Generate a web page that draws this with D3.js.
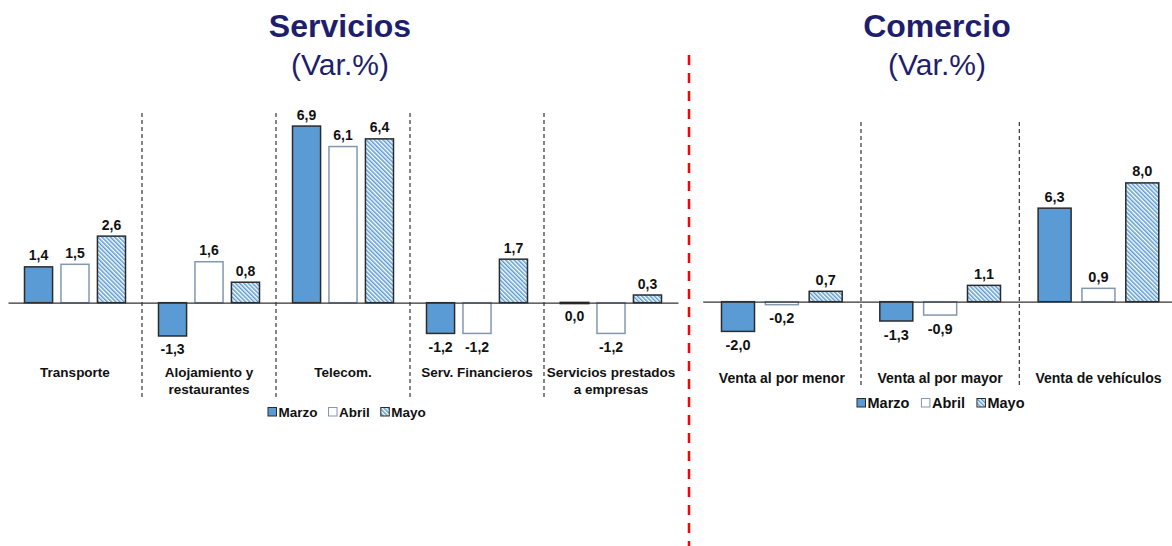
<!DOCTYPE html>
<html>
<head>
<meta charset="utf-8">
<script src="https://cdn.jsdelivr.net/npm/d3@7"></script>
<style>
  html, body { margin: 0; padding: 0; background: #fff; }
  svg { display: block; font-family: "Liberation Sans", Arial, sans-serif; }
</style>
</head>
<body>
<svg id="chart" width="1172" height="546"></svg>
<script>
// ---- Data ----
const seriesNames = ["Marzo", "Abril", "Mayo"];

const servCategories = ["Transporte", "Alojamiento y|restaurantes", "Telecom.", "Serv. Financieros", "Servicios prestados|a empresas"];
const servMarzo = [1.4, -1.3, 6.9, -1.2, 0.0];
const servAbril = [1.5, 1.6, 6.1, -1.2, -1.2];
const servMayo  = [2.6, 0.8, 6.4, 1.7, 0.3];

const comCategories = ["Venta al por menor", "Venta al por mayor", "Venta de vehículos"];
const comMarzo = [-2.0, -1.3, 6.3];
const comAbril = [-0.2, -0.9, 0.9];
const comMayo  = [0.7, 1.1, 8.0];

const titles = [["Servicios", "(Var.%)"], ["Comercio", "(Var.%)"]];

// ---- Setup ----
const svg = d3.select("#chart");
const navy = "#1F1E6E";
const fmt = v => d3.format(".1f")(v).replace(".", ",").replace("\u2212", "-");

const defs = svg.append("defs");
const pat = defs.append("pattern")
  .attr("id", "hatch")
  .attr("patternUnits", "userSpaceOnUse")
  .attr("width", 3).attr("height", 3)
  .attr("patternTransform", "rotate(-45)");
pat.append("rect").attr("width", 3).attr("height", 3).attr("fill", "#fff");
pat.append("line").attr("x1", 0.75).attr("x2", 0.75).attr("y1", 0).attr("y2", 3)
  .attr("stroke", "#5B9BD5").attr("stroke-width", 1.6);

const fills = { Marzo: "#5B9BD5", Abril: "#FFFFFF", Mayo: "url(#hatch)" };
const strokes = { Marzo: "#2b2b2b", Abril: "#8497B0", Mayo: "#2b2b2b" };

function panel(cfg) {
  const g = svg.append("g");
  const data = cfg.categories.map((c, i) => ({
    cat: c,
    vals: seriesNames.map((s, j) => ({ s, v: cfg.values[j][i] }))
  }));

  const x0 = d3.scaleBand().domain(cfg.categories).range(cfg.xRange);
  const bw = x0.bandwidth();
  const x1 = d3.scaleBand().domain(seriesNames)
    .range([cfg.groupInset, bw - cfg.groupInset]).paddingInner(cfg.innerPad);
  const y = d3.scaleLinear().domain(cfg.yDomain).range(cfg.yRange);

  // separators
  g.selectAll("line.sep").data(cfg.categories.slice(1)).enter().append("line")
    .attr("x1", d => x0(d)).attr("x2", d => x0(d))
    .attr("y1", cfg.sepY[0]).attr("y2", cfg.sepY[1])
    .attr("stroke", "#222").attr("stroke-width", 1.1)
    .attr("stroke-dasharray", "4,3");

  // bars
  const grp = g.selectAll("g.grp").data(data).enter().append("g")
    .attr("transform", d => `translate(${x0(d.cat)},0)`);
  grp.selectAll("rect").data(d => d.vals).enter().append("rect")
    .attr("x", d => x1(d.s))
    .attr("width", x1.bandwidth())
    .attr("y", d => y(Math.max(0, d.v)))
    .attr("height", d => Math.max(0.6, Math.abs(y(d.v) - y(0))))
    .attr("fill", d => fills[d.s])
    .attr("stroke", d => d.v === 0 ? "#111" : strokes[d.s])
    .attr("stroke-width", d => d.v === 0 ? 2 : 1.5);

  // value labels
  grp.selectAll("text.val").data(d => d.vals).enter().append("text")
    .attr("x", d => x1(d.s) + x1.bandwidth() / 2)
    .attr("y", d => d.v > 0 ? y(d.v) - 6.5 : y(d.v) + 18.5)
    .attr("text-anchor", "middle")
    .attr("font-weight", "bold")
    .attr("font-size", cfg.valSize)
    .attr("fill", "#111")
    .text(d => fmt(d.v));

  // zero axis with category labels
  const axis = d3.axisBottom(x0).tickSize(0).tickPadding(cfg.tickPad)
    .tickFormat(d => d.split("|")[0]);
  const ax = g.append("g").attr("transform", `translate(0,${y(0)})`).call(axis);
  ax.select(".domain").attr("stroke", "#333").attr("stroke-width", 1.2);
  ax.selectAll(".tick text")
    .attr("font-size", cfg.catSize)
    .attr("font-weight", "bold")
    .attr("font-family", "Liberation Sans, Arial, sans-serif")
    .attr("fill", "#111")
    .each(function(d) {
      const parts = d.split("|");
      if (parts.length > 1) {
        const t = d3.select(this);
        const yv = t.attr("y");
        t.text(null);
        parts.forEach((p, i) => {
          t.append("tspan").attr("x", 0).attr("y", yv)
            .attr("dy", (0.71 + i * 1.25) + "em").text(p);
        });
      }
    });

  // titles
  g.append("text").attr("x", cfg.titleX).attr("y", cfg.titleY[0])
    .attr("text-anchor", "middle").attr("font-weight", "bold")
    .attr("font-size", 32).attr("fill", navy).text(cfg.title[0]);
  g.append("text").attr("x", cfg.titleX).attr("y", cfg.titleY[1])
    .attr("text-anchor", "middle")
    .attr("font-size", 30).attr("fill", navy).text(cfg.title[1]);

  // legend
  const lg = g.append("g").attr("transform", `translate(${cfg.legendX},${cfg.legendY})`);
  let cx = 0;
  seriesNames.forEach(s => {
    lg.append("rect").attr("x", cx).attr("y", -4.5).attr("width", 8.5).attr("height", 8.5)
      .attr("fill", fills[s]).attr("stroke", strokes[s]).attr("stroke-width", 1);
    const t = lg.append("text").attr("x", cx + 10.5).attr("y", 0).attr("dy", "0.36em")
      .attr("font-size", cfg.legSize).attr("font-weight", "bold").attr("fill", "#111").text(s);
    cx += 10.5 + t.node().getComputedTextLength() + cfg.legGap;
  });
}

panel({
  categories: servCategories,
  values: [servMarzo, servAbril, servMayo],
  xRange: [8, 678],
  groupInset: 16.5,
  innerPad: 0.23,
  yDomain: [-3.5, 7.5],
  yRange: [392.3, 110.7],
  sepY: [113, 397],
  tickPad: 65,
  valSize: 14,
  catSize: 13.5,
  title: titles[0],
  titleX: 340,
  titleY: [37, 75],
  legendX: 268, legendY: 412,
  legSize: 13.5, legGap: 11,
});

panel({
  categories: comCategories,
  values: [comMarzo, comAbril, comMayo],
  xRange: [702.7, 1177.6],
  groupInset: 18.8,
  innerPad: 0.247,
  yDomain: [-4, 12],
  yRange: [361.1, 123.5],
  sepY: [122, 388],
  tickPad: 71,
  valSize: 14.5,
  catSize: 14,
  title: titles[1],
  titleX: 937,
  titleY: [37, 75],
  legendX: 857, legendY: 403,
  legSize: 14.5, legGap: 12,
});

// red divider
svg.append("line").attr("x1", 689).attr("x2", 689).attr("y1", 55).attr("y2", 546)
  .attr("stroke", "#FF0000").attr("stroke-width", 2.5).attr("stroke-dasharray", "10,8");
</script>
</body>
</html>
